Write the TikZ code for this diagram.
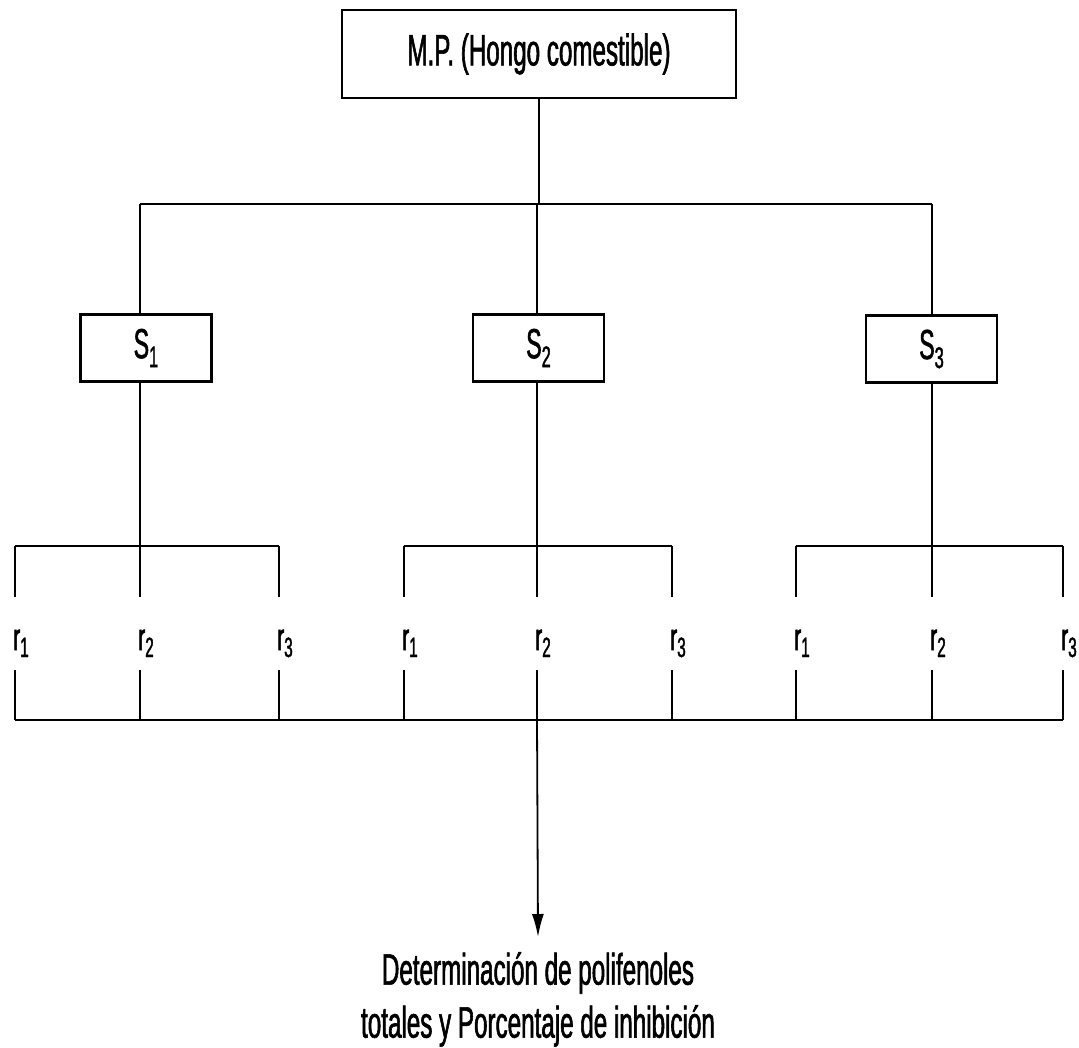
\documentclass[tikz,border=0pt]{standalone}
\usepackage{fontspec}
\setmainfont[FakeStretch=0.55,FakeBold=1.3]{Liberation Sans}
\usetikzlibrary{arrows.meta}
\newcommand\mysub[3]{\raisebox{-#2}{\fontsize{#3}{#3}\selectfont #1}}
\begin{document}
\begin{tikzpicture}[x=1pt,y=-1pt,
  line/.style={line width=1.8pt},
  bigbox/.style={draw,line width=2.8pt,inner sep=0pt,minimum width=394pt,minimum height=88pt,font=\fontsize{44}{53}\selectfont},
  sbox/.style={draw,line width=2.6pt,inner sep=0pt,minimum width=131pt,minimum height=67pt,font=\fontsize{42}{50}\selectfont},
  rlab/.style={inner sep=0pt,anchor=base,text height=53pt,text depth=20pt,font=\fontsize{38}{40}\selectfont},
  outtext/.style={anchor=north,inner xsep=0pt,inner ysep=15pt,align=center,font=\fontsize{44}{53}\selectfont}]
\useasboundingbox (0,0) rectangle (1079,1047);
% top node
\node[bigbox] (top) at (539,54) {M.P. (Hongo comestible)};
% sample boxes
\node[sbox] (S1) at (146,348) {S\mysub{1}{9pt}{30}};
\node[sbox] (S2) at (538.5,348) {S\mysub{2}{9pt}{30}};
\node[sbox] (S3) at (931.5,349) {S\mysub{3}{9pt}{30}};
% trunk coordinates on the top bar
\coordinate (t0) at (539,204);
\coordinate (t1) at (140,204);
\coordinate (t2) at (537,204);
\coordinate (t3) at (932,204);
\draw[line] (top.south) -- (t0);
\draw[line] (t1) -- (t3);
\draw[line] (t1) -- (t1 |- S1.north);
\draw[line] (t2) -- (t2 |- S2.north);
\draw[line] (t3) -- (t3 |- S3.north);
% groups
\foreach \g/\c/\xa/\xb/\xc/\S in {1/140/15/140/279/S1, 2/537/404/537/672/S2, 3/932/796/932/1063/S3}{
  \coordinate (m\g) at (\c,546);
  \draw[line] (m\g |- \S.south) -- (m\g);
  \foreach \i/\x in {1/\xa, 2/\xb, 3/\xc}{
    \coordinate (u\g\i) at (\x,546);
    \coordinate (d\g\i) at (\x,720);
    \node[rlab] (r\g\i) at (\x+6,650) {r\mysub{\i}{7pt}{28}};
    \draw[line] (u\g\i) -- (u\g\i |- r\g\i.north);
    \draw[line] (d\g\i |- r\g\i.south) -- (d\g\i);
  }
  \draw[line] (u\g1) -- (u\g3);
}
\draw[line] (d11) -- (d33);
% output
\node[outtext] (out) at (538,937) {Determinación de polifenoles\\totales y Porcentaje de inhibición};
\draw[line,-{Latex[length=23pt,width=12pt]}] (d22) -- (out.north);
\end{tikzpicture}
\end{document}
